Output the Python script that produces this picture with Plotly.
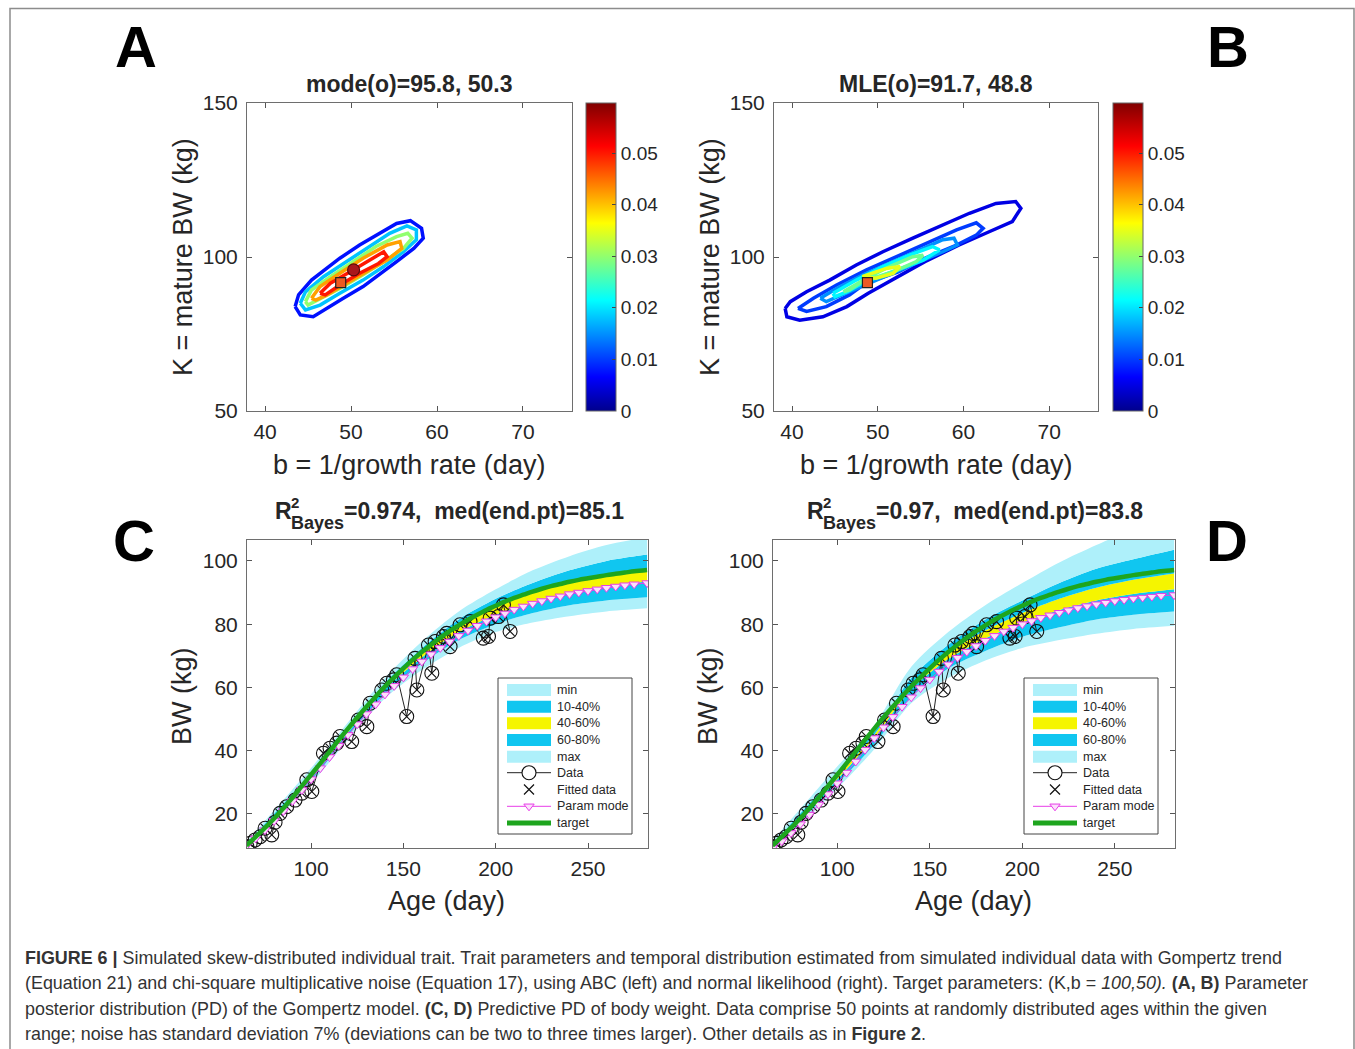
import plotly.graph_objects as go
from plotly.colors import sample_colorscale

W, H = 1355, 1049
FONT = "Liberation Sans, Arial, sans-serif"
TXT = "#262626"

# ---------------- data ----------------
# colour scale of the posterior density (MATLAB-style jet)
JET = [[0.0, "rgb(0,0,140)"], [0.11, "rgb(0,0,255)"], [0.36, "rgb(0,255,255)"],
       [0.61, "rgb(255,255,0)"], [0.86, "rgb(255,0,0)"], [1.0, "rgb(128,0,0)"]]
CB_MAX = 0.0597
CB_TICKS = [0, 0.01, 0.02, 0.03, 0.04, 0.05]

# Panel A: ABC posterior density contours in the (b, K) plane
A_LEVELS = [0.0075, 0.018, 0.030, 0.042, 0.050]
A_RING_B = [
    [43.5, 43.9, 45.4, 47.2, 48.7, 51.0, 53.4, 55.3, 56.9, 58.2, 58.4, 57.3, 55.3, 53.4, 51.4, 49.1, 47.2, 45.6, 44.1],
    [44.1, 44.7, 46.8, 49.1, 51.8, 54.5, 56.5, 57.6, 57.6, 56.1, 53.8, 51.4, 48.7, 46.4, 44.7],
    [44.7, 45.4, 47.6, 50.3, 52.9, 55.3, 56.6, 57.1, 56.1, 53.8, 51.4, 48.7, 46.4, 45.0],
    [45.4, 46.4, 48.7, 51.4, 54.2, 55.7, 55.9, 54.2, 51.8, 49.5, 47.2, 45.9],
    [46.4, 47.6, 49.9, 52.2, 53.8, 54.2, 53.2, 51.0, 48.7, 47.0],
]
A_RING_K = [
    [83.9, 87.7, 92.5, 96.3, 99.6, 103.9, 107.7, 110.9, 111.8, 109.3, 106.1, 102.8, 98.5, 94.7, 90.4, 86.6, 83.3, 80.6, 81.2],
    [85.0, 88.7, 93.6, 97.9, 102.8, 107.7, 110.1, 108.8, 105.6, 101.7, 96.9, 92.5, 88.2, 84.4, 82.8],
    [85.5, 89.3, 93.6, 98.5, 103.4, 106.6, 107.7, 106.1, 102.8, 98.5, 94.2, 89.8, 86.6, 84.4],
    [86.6, 90.4, 94.7, 99.6, 103.9, 105.0, 102.8, 99.0, 95.2, 91.5, 87.7, 86.0],
    [88.2, 91.5, 95.2, 99.0, 101.7, 100.1, 97.9, 94.7, 90.9, 87.7],
]

# Panel B: normal-likelihood posterior density contours
B_LEVELS = [0.005, 0.010, 0.015, 0.021, 0.028, 0.035]
B_RING_B = [
    [39.2, 39.8, 41.7, 44.4, 47.5, 50.6, 54.1, 57.6, 60.7, 63.8, 66.1, 66.7, 65.7, 63.0, 59.5, 55.5, 52.4, 48.9, 46.4, 43.6, 40.9, 39.4],
    [40.7, 42.5, 45.2, 48.7, 52.2, 55.7, 59.2, 61.5, 62.3, 61.5, 59.2, 55.5, 52.4, 48.6, 46.7, 44.0, 41.7],
    [43.3, 45.2, 48.3, 51.8, 55.3, 57.6, 58.9, 59.3, 57.6, 54.9, 51.8, 48.7, 46.0, 44.0],
    [44.8, 47.5, 50.6, 53.7, 56.4, 57.2, 55.3, 51.8, 48.2, 46.4, 45.0],
    [46.0, 48.7, 51.4, 54.1, 55.3, 54.5, 51.8, 48.2, 46.7],
    [48.2, 51.0, 52.6, 51.8, 49.8],
]
B_RING_K = [
    [83.3, 85.5, 88.7, 92.5, 97.4, 101.7, 106.1, 110.4, 114.2, 117.4, 118.0, 115.8, 111.5, 108.2, 103.9, 98.5, 93.6, 88.2, 83.9, 80.6, 79.5, 80.6],
    [83.3, 86.6, 90.9, 95.8, 100.1, 104.4, 108.8, 111.1, 109.3, 107.1, 103.9, 99.6, 95.2, 91.5, 87.7, 83.9, 82.3],
    [86.6, 89.8, 94.2, 98.5, 102.8, 105.6, 106.1, 103.9, 101.7, 98.5, 94.7, 90.9, 87.7, 85.5],
    [88.2, 92.5, 96.9, 100.6, 103.4, 102.3, 99.0, 95.2, 91.5, 88.7, 87.1],
    [88.7, 93.1, 96.9, 100.1, 100.6, 98.5, 95.2, 92.0, 89.3],
    [93.6, 96.3, 96.9, 94.7, 93.1],
]

MODE_ABC = (95.8, 50.3)   # (K, b) posterior mode, ABC
MLE = (91.7, 48.8)        # (K, b) maximum-likelihood estimate

# Panels C, D: simulated body-weight data (age in days, BW in kg)
AGE_DATA = [65.2, 67.0, 69.7, 72.4, 75.1, 78.7, 80.5, 83.2, 86.8, 91.3,
            95.0, 97.7, 100.4, 106.7, 110.3, 113.9, 115.7, 122.0, 125.6, 130.2,
            132.0, 138.3, 141.0, 144.6, 146.4, 151.8, 156.3, 157.3, 163.6, 165.4,
            167.2, 171.7, 173.5, 175.3, 180.7, 186.1, 193.3, 196.1, 197.0, 201.5,
            204.2, 207.8]
BW_DATA = [9.7, 10.7, 11.8, 12.8, 15.5, 13.4, 17.4, 20.2, 22.3, 24.4,
           26.6, 30.8, 27.1, 39.2, 40.8, 42.4, 44.5, 42.9, 49.7, 47.6,
           55.0, 59.2, 61.3, 62.4, 64.0, 50.8, 69.2, 59.2, 73.4, 64.5,
           74.5, 76.1, 77.1, 72.9, 79.8, 80.8, 75.6, 76.1, 81.9, 82.4,
           86.1, 77.7]

AGE_CURVE = [65, 70, 75, 80, 85, 90, 95, 100, 105, 110, 115, 120, 125, 130, 135,
             140, 145, 150, 155, 160, 165, 170, 175, 180, 185, 190, 195, 200, 205,
             210, 215, 220, 225, 230, 235, 240, 245, 250, 255, 260, 265, 270, 275, 282]
TARGET_BW = [10.0, 12.8, 15.6, 18.6, 21.8, 25.2, 28.8, 32.4, 36.0, 39.7,
             43.4, 47.0, 50.5, 53.9, 57.1, 60.3, 63.2, 66.0, 68.7, 71.2,
             73.5, 75.7, 77.8, 79.6, 81.4, 83.0, 84.5, 85.8, 87.1, 88.3,
             89.3, 90.3, 91.2, 92.0, 92.7, 93.4, 94.0, 94.5, 95.0, 95.5,
             95.9, 96.3, 96.7, 97.1]
PARAM_C = [9.9, 12.3, 14.9, 17.8, 20.9, 24.1, 27.6, 31.0, 34.5, 38.0,
           41.6, 45.0, 48.4, 51.6, 54.7, 57.8, 60.5, 63.2, 65.8, 68.2,
           70.5, 72.5, 74.5, 76.3, 78.0, 79.5, 80.9, 82.2, 83.4, 84.6,
           85.6, 86.5, 87.3, 88.1, 88.8, 89.5, 90.0, 90.5, 91.0, 91.5,
           91.9, 92.3, 92.6, 93.0]
PARAM_D = [9.2, 11.4, 14.0, 16.8, 19.8, 23.0, 26.3, 29.7, 33.1, 36.6,
           40.3, 44.0, 47.4, 50.7, 53.9, 56.9, 59.8, 62.5, 65.0, 67.3,
           69.4, 71.3, 73.1, 74.8, 76.3, 77.7, 78.9, 80.0, 81.0, 82.0,
           82.8, 83.6, 84.4, 85.1, 85.7, 86.3, 86.8, 87.3, 87.7, 88.1,
           88.4, 88.7, 89.0, 89.2]

# predictive quantile envelopes
AGE_Q = [65, 100, 120, 140, 160, 180, 200, 220, 240, 260, 282]
C_MIN = [9.0, 29.5, 43.5, 56.5, 65.5, 72.5, 77.5, 80.5, 82.5, 84.0, 85.0]
C_P10 = [9.5, 30.5, 44.8, 58.0, 67.5, 75.0, 80.0, 83.5, 86.0, 87.5, 88.5]
C_P40 = [10.0, 31.5, 45.8, 59.5, 69.5, 77.5, 83.0, 87.0, 90.0, 92.0, 93.5]
C_P60 = [10.3, 32.0, 46.5, 60.5, 71.0, 79.5, 85.5, 90.0, 93.0, 95.5, 97.0]
C_P80 = [10.6, 33.0, 47.3, 61.5, 72.5, 81.5, 88.0, 93.0, 97.0, 100.0, 102.0]
C_MAX = [11.2, 34.5, 49.0, 63.0, 74.5, 84.0, 91.0, 97.0, 101.5, 105.0, 107.5]

D_MIN = [8.5, 28.0, 40.5, 55.0, 63.0, 68.5, 72.5, 75.0, 77.0, 78.5, 79.5]
D_P10 = [9.0, 29.5, 42.0, 57.0, 66.0, 71.5, 76.0, 79.0, 81.5, 83.0, 84.0]
D_P40 = [9.6, 31.0, 44.0, 59.5, 69.0, 75.5, 80.5, 84.5, 87.5, 89.5, 91.0]
D_P60 = [10.0, 32.0, 45.0, 61.0, 71.0, 78.0, 83.5, 88.0, 91.5, 94.0, 96.0]
D_P80 = [10.5, 33.0, 46.0, 63.0, 73.5, 81.5, 87.5, 93.0, 97.5, 100.5, 103.5]
D_MAX = [11.5, 35.0, 48.0, 66.5, 77.5, 86.0, 93.0, 99.5, 105.0, 110.0, 115.0]

R2_C, END_C = 0.974, 85.1
R2_D, END_D = 0.97, 83.8

BAND_LABELS = ["min", "10-40%", "40-60%", "60-80%", "max"]
LINE_LABELS = ["Data", "Fitted data", "Param mode", "target"]

# ---------------- styling ----------------
LIGHT_CYAN = "#aef0fa"
CYAN = "#10c6f0"
YELLOW = "#f5f500"
BAND_COLORS = [LIGHT_CYAN, CYAN, YELLOW, CYAN, LIGHT_CYAN]
GREEN = "#1ea51e"
MAGENTA = "#e83ce8"


def xd(px):
    return px / W


def yd(py):
    return 1 - py / H


def axis(domain, rng, ticks, anchor, standoff):
    return dict(domain=domain, range=rng, tickvals=ticks, anchor=anchor,
                ticks="inside", ticklen=5, tickcolor="#555", tickwidth=1,
                showline=True, linecolor="#6e6e6e", linewidth=1, mirror="ticks",
                showgrid=False, zeroline=False, ticklabelstandoff=standoff,
                automargin=False,
                tickfont=dict(family=FONT, size=21, color=TXT))


fig = go.Figure()


def lvl_color(v):
    return sample_colorscale(JET, [v / CB_MAX])[0]


def contour_panel(levels, ring_b, ring_k, xa, ya, cb_x):
    for lv, bs, ks in zip(levels, ring_b, ring_k):
        fig.add_trace(go.Scatter(x=bs + bs[:1], y=ks + ks[:1], mode="lines",
                                 line=dict(color=lvl_color(lv), width=3.5),
                                 xaxis=xa, yaxis=ya, showlegend=False, hoverinfo="skip"))
    # colour bar
    fig.add_trace(go.Scatter(
        x=[MLE[1]], y=[MLE[0]], mode="markers", xaxis=xa, yaxis=ya, showlegend=False,
        hoverinfo="skip",
        marker=dict(size=1, opacity=0, color=[0], cmin=0, cmax=CB_MAX, colorscale=JET,
                    showscale=True,
                    colorbar=dict(x=xd(cb_x), xanchor="left", xpad=0, xref="paper",
                                  y=yd(257), yanchor="middle", yref="paper", ypad=0,
                                  len=308, lenmode="pixels", thickness=30,
                                  thicknessmode="pixels", outlinecolor="#666",
                                  outlinewidth=1, tickvals=CB_TICKS,
                                  ticktext=[f"{t:g}" for t in CB_TICKS],
                                  ticks="inside", ticklen=4, tickcolor="#444",
                                  tickfont=dict(family=FONT, size=19, color=TXT)))))


contour_panel(A_LEVELS, A_RING_B, A_RING_K, "x", "y", 586)
contour_panel(B_LEVELS, B_RING_B, B_RING_K, "x2", "y2", 1113)

# estimate markers
fig.add_trace(go.Scatter(x=[MLE[1]], y=[MLE[0]], mode="markers", xaxis="x", yaxis="y",
                         marker=dict(symbol="square", size=10, color="#ee5a22",
                                     line=dict(color="#222", width=1.2)),
                         showlegend=False, hoverinfo="skip"))
fig.add_trace(go.Scatter(x=[MODE_ABC[1]], y=[MODE_ABC[0]], mode="markers", xaxis="x", yaxis="y",
                         marker=dict(symbol="circle", size=12, color="#a8161c",
                                     line=dict(color="#5a0a0a", width=1.2)),
                         showlegend=False, hoverinfo="skip"))
fig.add_trace(go.Scatter(x=[MLE[1]], y=[MLE[0]], mode="markers", xaxis="x2", yaxis="y2",
                         marker=dict(symbol="square", size=10, color="#ee5a22",
                                     line=dict(color="#222", width=1.2)),
                         showlegend=False, hoverinfo="skip"))


def growth_panel(qs, param, xa, ya):
    for i, q in enumerate(qs):
        fig.add_trace(go.Scatter(
            x=AGE_Q, y=q, mode="lines", line=dict(width=0, shape="spline", smoothing=0.8),
            fill=None if i == 0 else "tonexty",
            fillcolor=None if i == 0 else BAND_COLORS[i - 1],
            xaxis=xa, yaxis=ya, showlegend=False, hoverinfo="skip"))
    fig.add_trace(go.Scatter(x=AGE_DATA, y=BW_DATA, mode="lines+markers", xaxis=xa, yaxis=ya,
                             line=dict(color="#222", width=1),
                             marker=dict(symbol="circle-open", size=14, color="#111",
                                         line=dict(width=1.1)),
                             showlegend=False, hoverinfo="skip"))
    fig.add_trace(go.Scatter(x=AGE_DATA, y=BW_DATA, mode="markers", xaxis=xa, yaxis=ya,
                             marker=dict(symbol="x-thin-open", size=9, color="#111",
                                         line=dict(width=1.1, color="#111")),
                             showlegend=False, hoverinfo="skip"))
    fig.add_trace(go.Scatter(x=AGE_CURVE, y=param, mode="lines+markers", xaxis=xa, yaxis=ya,
                             line=dict(color=MAGENTA, width=1),
                             marker=dict(symbol="triangle-down", size=9, color="#fbe0fb",
                                         line=dict(color=MAGENTA, width=1)),
                             showlegend=False, hoverinfo="skip"))
    fig.add_trace(go.Scatter(x=AGE_CURVE, y=TARGET_BW, mode="lines", xaxis=xa, yaxis=ya,
                             line=dict(color=GREEN, width=4.5, shape="spline"),
                             showlegend=False, hoverinfo="skip"))


growth_panel([C_MIN, C_P10, C_P40, C_P60, C_P80, C_MAX], PARAM_C, "x3", "y3")
growth_panel([D_MIN, D_P10, D_P40, D_P60, D_P80, D_MAX], PARAM_D, "x4", "y4")

shapes = []
annotations = []


def text(px, py, s, size, bold=False, xanchor="center", yanchor="middle", angle=0,
         color=TXT, ref=("paper", "paper")):
    if ref == ("paper", "paper"):
        x, y = xd(px), yd(py)
    else:
        x, y = px, py
    annotations.append(dict(x=x, y=y, xref=ref[0], yref=ref[1], text=f"<b>{s}</b>" if bold else s,
                            showarrow=False, xanchor=xanchor, yanchor=yanchor,
                            textangle=angle, borderpad=0,
                            font=dict(family=FONT, size=size, color=color)))


# legend drawn on a full-figure pixel axis (x5, y5)
LEG_ROWS = [690, 706.7, 723.3, 740, 756.7, 772.7, 789.5, 806.3, 823]


def legend(x0):
    shapes.append(dict(type="rect", xref="x5", yref="y5", x0=x0, x1=x0 + 134, y0=678, y1=834,
                       line=dict(color="#444", width=1), fillcolor="white", layer="below"))
    for lab, col, ry in zip(BAND_LABELS, BAND_COLORS, LEG_ROWS[:5]):
        shapes.append(dict(type="rect", xref="x5", yref="y5", x0=x0 + 9, x1=x0 + 53,
                           y0=ry - 6, y1=ry + 6, fillcolor=col, line=dict(width=0), layer="above"))
    sx = [x0 + 9, x0 + 53]
    cx = x0 + 31
    r = LEG_ROWS
    fig.add_trace(go.Scatter(x=sx, y=[r[5]] * 2, mode="lines", line=dict(color="#222", width=1),
                             xaxis="x5", yaxis="y5", showlegend=False, hoverinfo="skip"))
    fig.add_trace(go.Scatter(x=[cx], y=[r[5]], mode="markers", xaxis="x5", yaxis="y5",
                             marker=dict(symbol="circle", size=14, color="white",
                                         line=dict(color="#111", width=1.1)),
                             showlegend=False, hoverinfo="skip"))
    fig.add_trace(go.Scatter(x=[cx], y=[r[6]], mode="markers", xaxis="x5", yaxis="y5",
                             marker=dict(symbol="x-thin-open", size=10, color="#111",
                                         line=dict(width=1.2, color="#111")),
                             showlegend=False, hoverinfo="skip"))
    fig.add_trace(go.Scatter(x=sx, y=[r[7]] * 2, mode="lines", line=dict(color=MAGENTA, width=1),
                             xaxis="x5", yaxis="y5", showlegend=False, hoverinfo="skip"))
    fig.add_trace(go.Scatter(x=[cx], y=[r[7]], mode="markers", xaxis="x5", yaxis="y5",
                             marker=dict(symbol="triangle-down", size=9, color="#fbe0fb",
                                         line=dict(color=MAGENTA, width=1)),
                             showlegend=False, hoverinfo="skip"))
    fig.add_trace(go.Scatter(x=sx, y=[r[8]] * 2, mode="lines", line=dict(color=GREEN, width=5),
                             xaxis="x5", yaxis="y5", showlegend=False, hoverinfo="skip"))
    for lab, ry in zip(BAND_LABELS + LINE_LABELS, r):
        text(x0 + 58, ry, lab, 12.5, xanchor="left", ref=("x5", "y5"))


legend(498)
legend(1024)

# titles
text(409, 84, f"mode(o)={MODE_ABC[0]:.1f}, {MODE_ABC[1]:.1f}", 23, bold=True)
text(936, 84, f"MLE(o)={MLE[0]:.1f}, {MLE[1]:.1f}", 23, bold=True)


def r2_title(x0, x_rest, r2, endpt):
    text(x0, 511, "R", 23, bold=True, xanchor="left")
    text(x0 + 16, 502, "2", 15, bold=True, xanchor="left")
    text(x0 + 16, 523, "Bayes", 18, bold=True, xanchor="left")
    text(x_rest, 511, f"={r2:g},\u00a0\u00a0med(end.pt)={endpt:.1f}", 23, bold=True, xanchor="left")


r2_title(274, 343, R2_C, END_C)
r2_title(806, 875, R2_D, END_D)

# axis titles
for cx in (409, 936):
    text(cx, 465, "b = 1/growth rate (day)", 27)
for cx in (183, 710):
    text(cx, 257, "K = mature BW (kg)", 27, angle=-90)
for cx in (447, 973):
    text(cx, 901, "Age (day)", 27)
for cx in (182, 708):
    text(cx, 696, "BW (kg)", 27, angle=-90)

# panel letters
for s, px, py in (("A", 136, 47), ("B", 1228, 47), ("C", 134, 540), ("D", 1227, 540)):
    text(px, py, s, 58, bold=True, color="#000")

# caption
CAPTION = [
    "<b>FIGURE 6 |</b> Simulated skew-distributed individual trait. Trait parameters and temporal distribution estimated from simulated individual data with Gompertz trend",
    "(Equation 21) and chi-square multiplicative noise (Equation 17), using ABC (left) and normal likelihood (right). Target parameters: (K,b = <i>100,50).</i> <b>(A, B)</b> Parameter",
    "posterior distribution (PD) of the Gompertz model. <b>(C, D)</b> Predictive PD of body weight. Data comprise 50 points at randomly distributed ages within the given",
    "range; noise has standard deviation 7% (deviations can be two to three times larger). Other details as in <b>Figure 2</b>.",
]
for i, line in enumerate(CAPTION):
    text(24, 958 + 25.3 * i, line, 17.9, xanchor="left", color="#333")

# outer frame
shapes.append(dict(type="rect", xref="paper", yref="paper", x0=xd(10), x1=xd(1354),
                   y0=-0.02, y1=yd(8.5), line=dict(color="#8c8c8c", width=1.5), layer="below"))

fig.update_layout(
    width=W, height=H, autosize=False,
    margin=dict(l=0, r=0, t=0, b=0, pad=0, autoexpand=False),
    paper_bgcolor="white", plot_bgcolor="rgba(0,0,0,0)", showlegend=False,
    xaxis=axis([xd(247), xd(572)], [37.9, 75.7], [40, 50, 60, 70], "y", 2),
    yaxis=axis([yd(411), yd(103)], [50, 150], [50, 100, 150], "x", 4),
    xaxis2=axis([xd(774), xd(1098)], [37.9, 75.7], [40, 50, 60, 70], "y2", 2),
    yaxis2=axis([yd(411), yd(103)], [50, 150], [50, 100, 150], "x2", 4),
    xaxis3=axis([xd(247), xd(648)], [65.3, 282.5], [100, 150, 200, 250], "y3", 2),
    yaxis3=axis([yd(848), yd(540)], [9.25, 106.6], [20, 40, 60, 80, 100], "x3", 4),
    xaxis4=axis([xd(773), xd(1175)], [65.3, 282.5], [100, 150, 200, 250], "y4", 2),
    yaxis4=axis([yd(848), yd(540)], [9.25, 106.6], [20, 40, 60, 80, 100], "x4", 4),
    xaxis5=dict(domain=[0, 1], range=[0, W], visible=False, anchor="y5", fixedrange=True),
    yaxis5=dict(domain=[0, 1], range=[H, 0], visible=False, anchor="x5", fixedrange=True),
    shapes=shapes, annotations=annotations,
)

fig.write_html("out.html")
